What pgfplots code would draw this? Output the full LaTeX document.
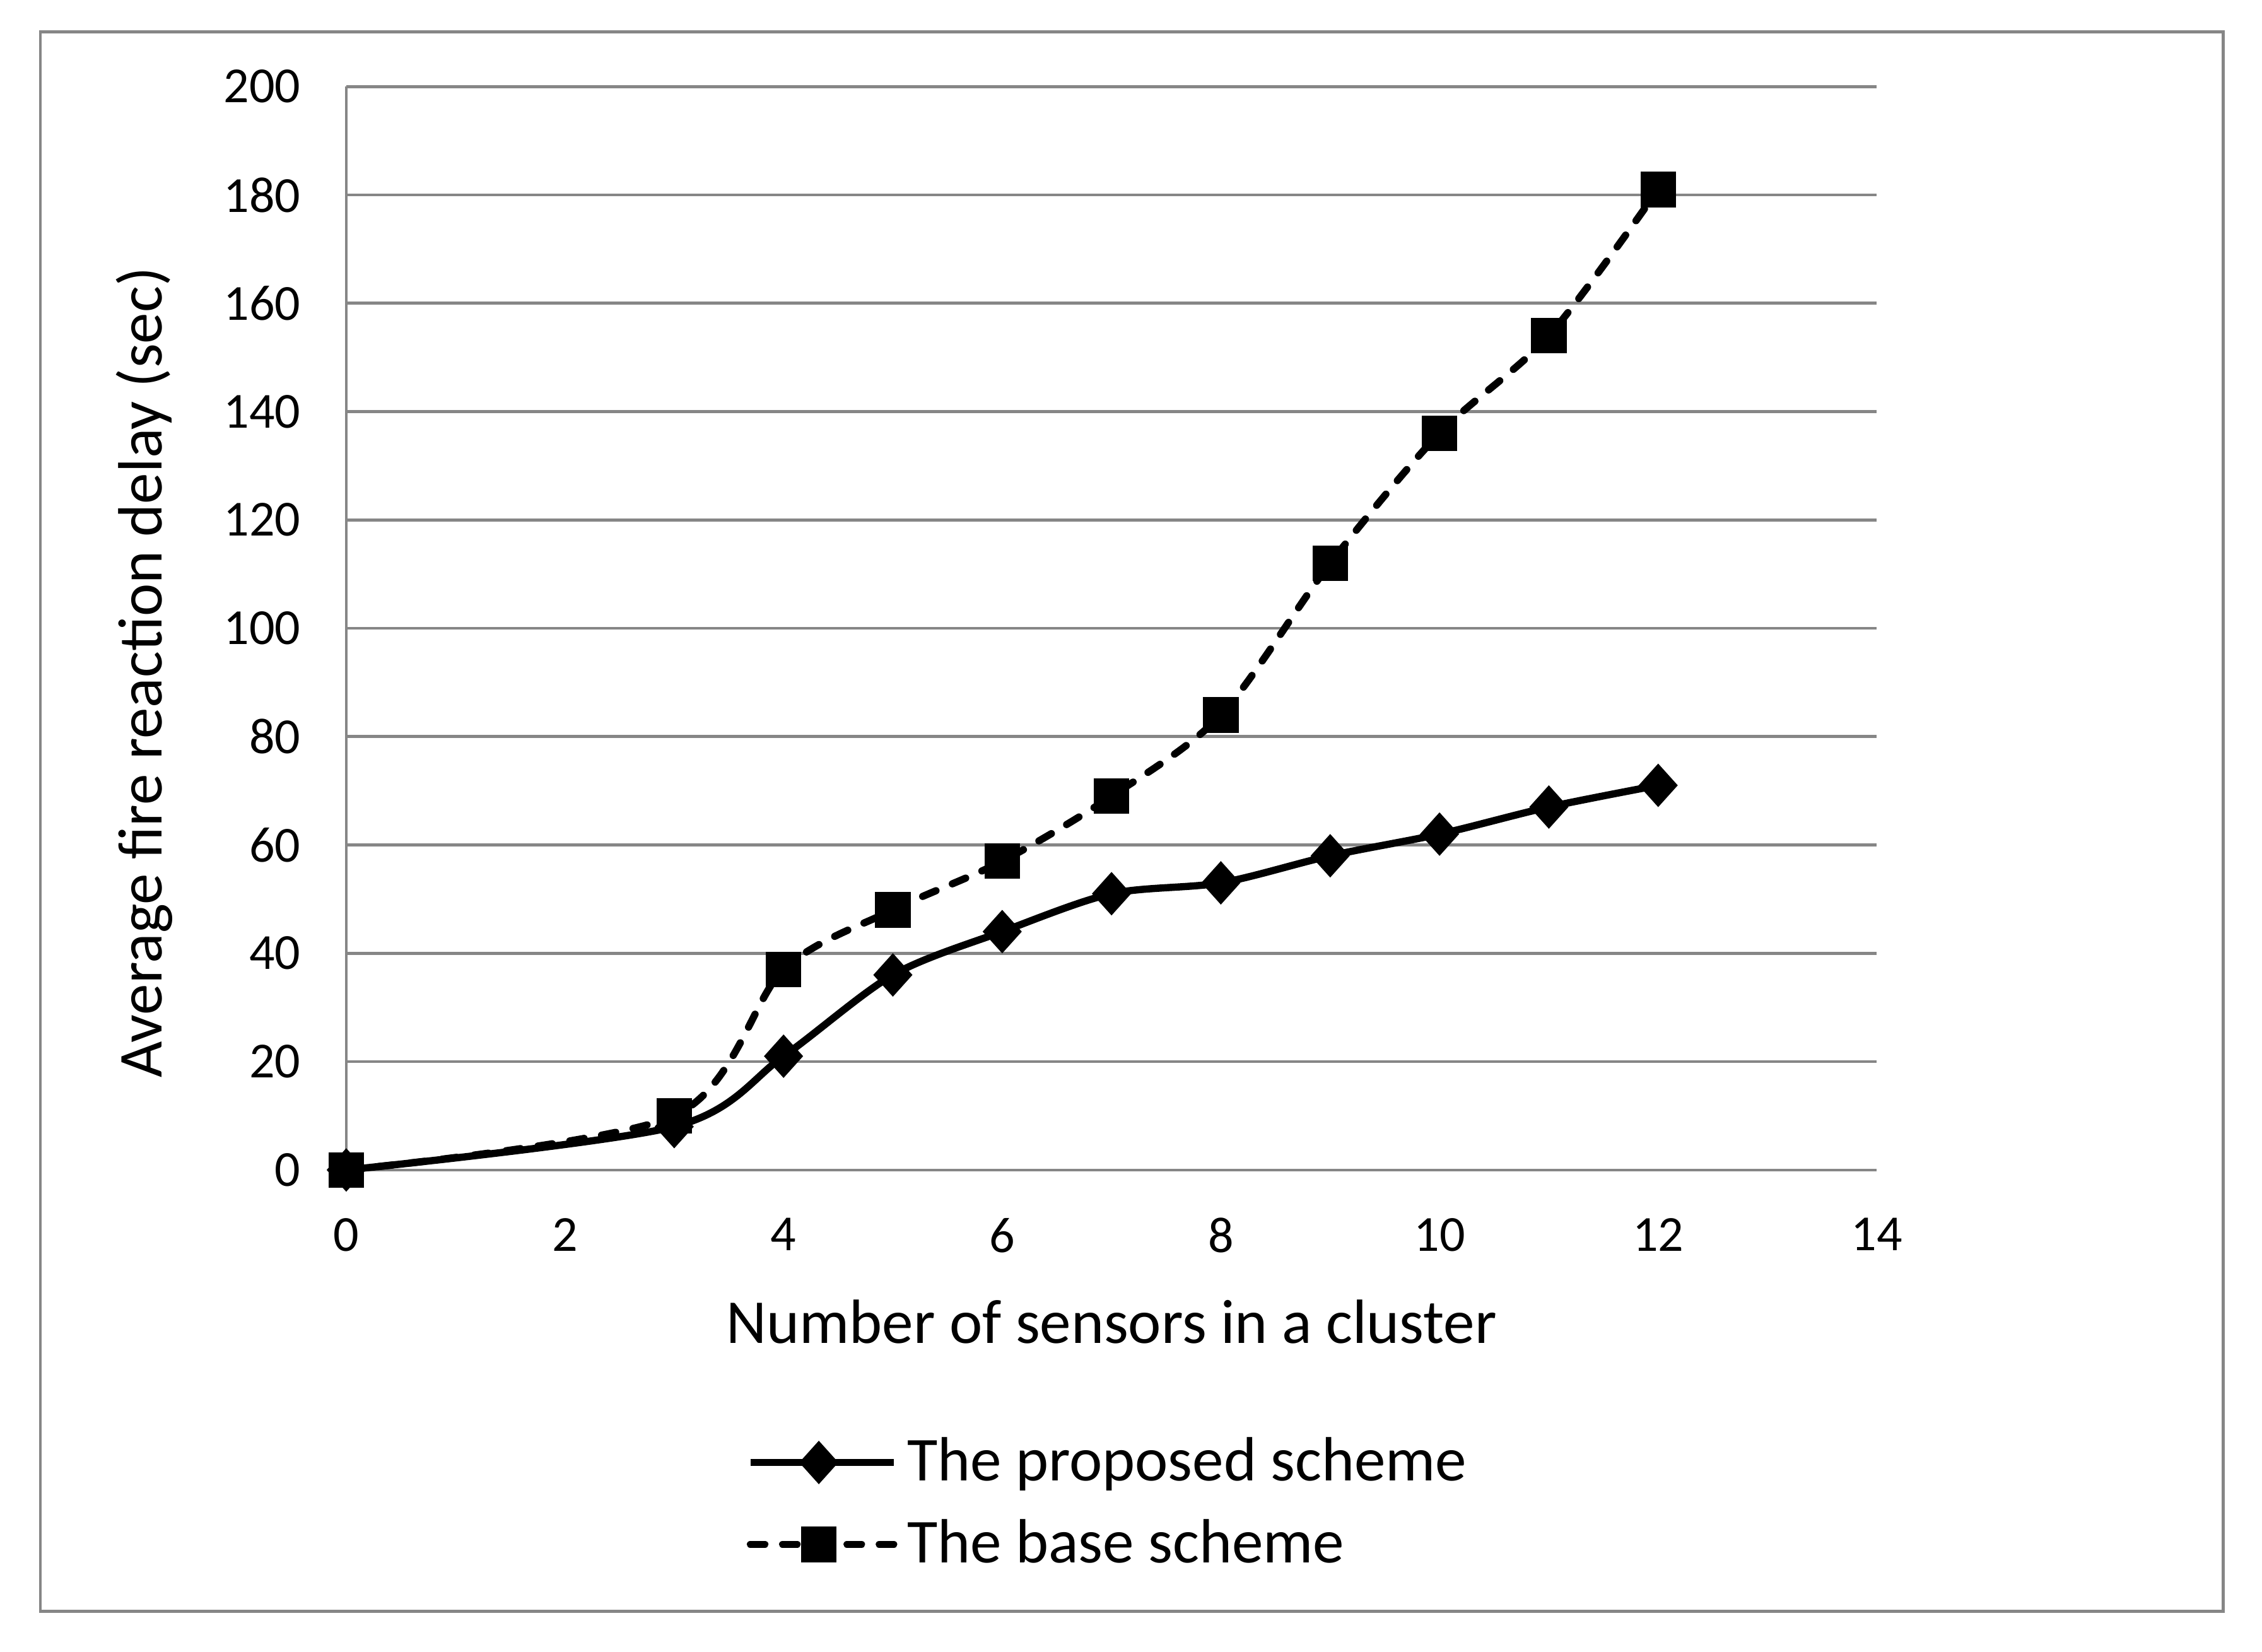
\documentclass[border=0pt]{standalone}
\usepackage{fontspec}
\setmainfont{Carlito}
\usepackage{pgfplots}
\pgfplotsset{compat=1.18}
\definecolor{gridgray}{HTML}{868686}

\begin{document}
\begin{tikzpicture}
% white page and outer chart frame (1 px of reference = 0.3pt)
\fill[white] (-72pt,-100.2pt) rectangle (398.4pt,243.3pt);
\draw[gridgray, line width=0.6pt] (-63.6pt,-91.8pt) rectangle (390.3pt,236.7pt);
\begin{axis}[
    scale only axis,
    width=318.3pt,
    height=225.3pt,
    xmin=0, xmax=14,
    ymin=0, ymax=200,
    xtick={0,2,...,14},
    ytick={0,20,...,200},
    axis x line=bottom,
    axis y line=left,
    axis line style={gridgray, line width=0.6pt, -},
    major tick length=0pt,
    ymajorgrids,
    grid style={gridgray, line width=0.6pt},
    /pgf/number format/assume math mode=true,
    ticklabel style={font=\fontsize{10.5}{12}\selectfont},
    xticklabel style={yshift=-6.5pt},
    yticklabel style={xshift=-6pt},
    xlabel={Number of sensors in a cluster},
    ylabel={Average fire reaction delay (sec)},
    label style={font=\fontsize{13}{15}\selectfont},
    xlabel style={at={(axis description cs:0.5,-0.140)}, anchor=center},
    ylabel style={at={(axis description cs:-0.132,0.459)}, anchor=center},
    legend style={at={(0.5,-0.228)}, anchor=north, draw=none, fill=none,
      font=\fontsize{13}{15}\selectfont, row sep=2.5pt,
      cells={anchor=west}},
    legend image code/.code={
      \draw[mark repeat=2, mark phase=2, #1] plot coordinates {(0cm,0cm) (0.5cm,0cm) (1.05cm,0cm)};},
    clip=false,
]
\addplot[black, line width=1.5pt, smooth, mark=diamond*, mark size=3.4pt,
  mark options={solid, xscale=1.2}]
  coordinates {(0,0) (3,8) (4,21) (5,36) (6,44) (7,51) (8,53) (9,58) (10,62) (11,67) (12,71)};
\addlegendentry{The proposed scheme}
\addplot[black, line width=1.5pt, smooth, dash pattern=on 3pt off 3.7pt, line cap=round,
  mark=square*, mark size=2.95pt, mark options={solid}]
  coordinates {(0,0) (3,10) (4,37) (5,48) (6,57) (7,69) (8,84) (9,112) (10,136) (11,154) (12,181)};
\addlegendentry{The base scheme}
\end{axis}
\end{tikzpicture}
\end{document}
